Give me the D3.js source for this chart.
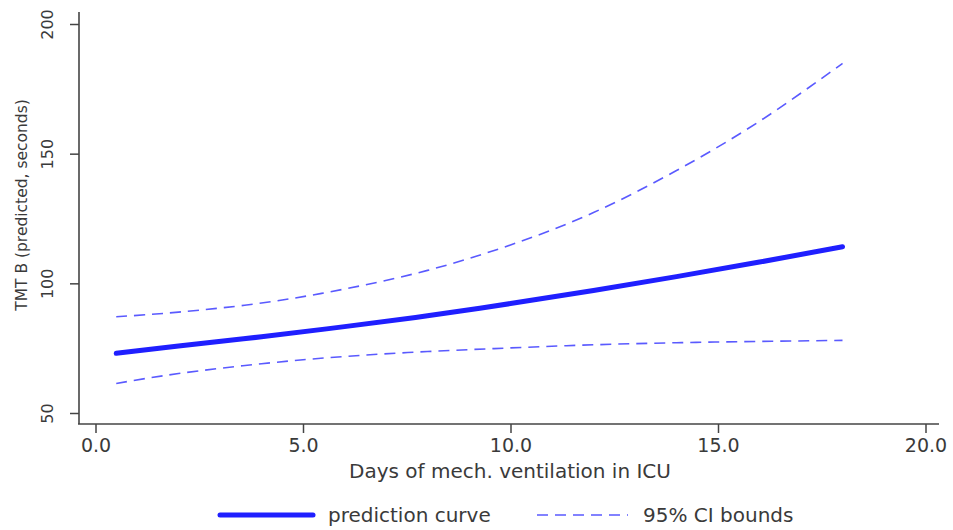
<!DOCTYPE html>
<html>
<head>
<meta charset="utf-8">
<script src="https://cdn.jsdelivr.net/npm/d3@7"></script>
<style>
  body { margin: 0; background: #fff; }
  svg text { font-family: "DejaVu Sans", sans-serif; fill: #3a3a3a; }
</style>
</head>
<body>
<div id="chart"></div>
<script>
// values
var days = [0.5, 2, 4, 6, 8, 10, 12, 14, 16, 18];
var predicted = [73.0, 75.8, 79.4, 83.3, 87.5, 92.2, 97.2, 102.6, 108.2, 114.1];
var upperCI = [87.1, 88.9, 92.4, 97.8, 105.0, 114.8, 127.3, 143.5, 162.5, 184.8];
var lowerCI = [61.4, 65.2, 69.0, 71.8, 73.7, 75.1, 76.3, 77.1, 77.6, 78.0];
var xTicks = [0, 5, 10, 15, 20];
var yTicks = [50, 100, 150, 200];

var svgWidth = 953, svgHeight = 530;

var svg = d3.select("#chart").append("svg")
  .attr("width", svgWidth)
  .attr("height", svgHeight);

var xScale = d3.scaleLinear().domain([0, 20]).range([95.5, 925.5]);
var yScale = d3.scaleLinear().domain([50, 200]).range([413, 24]);

var axisColor = "#444";

// axis lines
svg.append("line")
  .attr("x1", 79).attr("x2", 79)
  .attr("y1", 12).attr("y2", 424)
  .attr("stroke", axisColor).attr("stroke-width", 1.6);
svg.append("line")
  .attr("x1", 78).attr("x2", 939)
  .attr("y1", 424).attr("y2", 424)
  .attr("stroke", axisColor).attr("stroke-width", 1.6);

// x axis
var xAxis = svg.append("g")
  .attr("transform", "translate(0,424)")
  .call(d3.axisBottom(xScale).tickValues(xTicks).tickSize(9).tickPadding(6).tickFormat(d3.format(".1f")));
xAxis.select(".domain").remove();
xAxis.selectAll(".tick line").attr("stroke", axisColor).attr("stroke-width", 1.5);
xAxis.selectAll("text").attr("font-size", 19).attr("font-family", "DejaVu Sans").attr("fill", "#3a3a3a");

// y axis, labels turned vertical
var yAxis = svg.append("g")
  .attr("transform", "translate(79,0)")
  .call(d3.axisLeft(yScale).tickValues(yTicks).tickSize(9).tickFormat(d3.format("d")));
yAxis.select(".domain").remove();
yAxis.selectAll(".tick line").attr("stroke", axisColor).attr("stroke-width", 1.5);
yAxis.selectAll("text")
  .attr("x", null).attr("dy", null)
  .attr("transform", "translate(-32,0) rotate(-90)")
  .attr("text-anchor", "middle")
  .attr("dominant-baseline", "central")
  .attr("font-size", 16).attr("font-family", "DejaVu Sans").attr("fill", "#3a3a3a");

// axis titles
svg.append("text")
  .attr("x", 510).attr("y", 478)
  .attr("text-anchor", "middle")
  .attr("font-size", 20)
  .text("Days of mech. ventilation in ICU");

svg.append("text")
  .attr("transform", "translate(22,205) rotate(-90)")
  .attr("text-anchor", "middle")
  .attr("dominant-baseline", "central")
  .attr("font-size", 15.5)
  .text("TMT B (predicted, seconds)");

// curves
function series(vals) {
  return days.map(function(d, i) { return [d, vals[i]]; });
}
var line = d3.line()
  .x(d => xScale(d[0]))
  .y(d => yScale(d[1]))
  .curve(d3.curveNatural);

svg.append("path")
  .datum(series(upperCI))
  .attr("d", line)
  .attr("fill", "none")
  .attr("stroke", "#5a5aff")
  .attr("stroke-width", 1.6)
  .attr("stroke-dasharray", "11,7");

svg.append("path")
  .datum(series(lowerCI))
  .attr("d", line)
  .attr("fill", "none")
  .attr("stroke", "#5a5aff")
  .attr("stroke-width", 1.6)
  .attr("stroke-dasharray", "11,7");

svg.append("path")
  .datum(series(predicted))
  .attr("d", line)
  .attr("fill", "none")
  .attr("stroke", "#1f1fff")
  .attr("stroke-width", 5)
  .attr("stroke-linecap", "round");

// legend
var legend = svg.append("g").attr("transform", "translate(0,515)");
legend.append("line")
  .attr("x1", 220).attr("x2", 313)
  .attr("stroke", "#1f1fff").attr("stroke-width", 5).attr("stroke-linecap", "round");
legend.append("text")
  .attr("x", 328).attr("dominant-baseline", "central")
  .attr("font-size", 20)
  .text("prediction curve");
legend.append("line")
  .attr("x1", 537).attr("x2", 628)
  .attr("stroke", "#5a5aff").attr("stroke-width", 1.6).attr("stroke-dasharray", "11,7");
legend.append("text")
  .attr("x", 643).attr("dominant-baseline", "central")
  .attr("font-size", 20)
  .text("95% CI bounds");
</script>
</body>
</html>
